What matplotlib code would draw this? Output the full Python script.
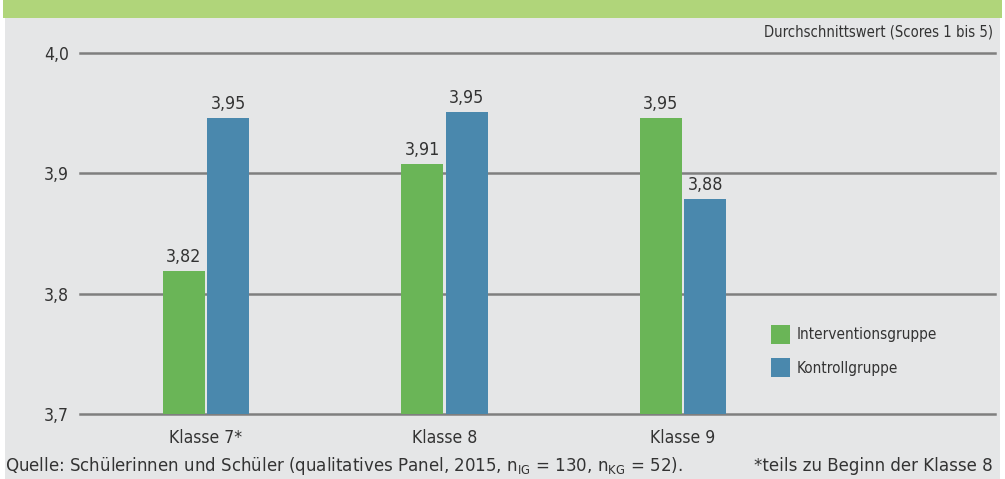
import matplotlib
matplotlib.use("Agg")
import matplotlib.pyplot as plt
from matplotlib.patches import Rectangle
import numpy as np

plt.rcParams['font.family'] = ['DejaVu Sans']
plt.rcParams['font.stretch'] = 'condensed'

categories = ["Klasse 7*", "Klasse 8", "Klasse 9"]
series_names = ["Interventionsgruppe", "Kontrollgruppe"]
interv = [3.819, 3.908, 3.946]
kontroll = [3.946, 3.951, 3.879]
yticks = [3.7, 3.8, 3.9, 4.0]
ytick_labels = ["3,7", "3,8", "3,9", "4,0"]

GREEN = "#6ab557"
BLUE = "#4a88ad"
BANNER = "#b0d57a"
PANEL = "#e5e6e7"
TXT = "#333333"
GRID = "#7f7f7f"

W, H = 1005, 479
fig = plt.figure(figsize=(W/100, H/100), dpi=100)
fig.patch.set_facecolor("white")

fig.add_artist(Rectangle((5/W, 0), (1000-5)/W, 1 - 18/H, transform=fig.transFigure,
                         facecolor=PANEL, edgecolor="none", zorder=0))
fig.add_artist(Rectangle((3/W, 1 - 18/H), (1002-3)/W, 18/H, transform=fig.transFigure,
                         facecolor=BANNER, edgecolor="none", zorder=0))

ax = fig.add_axes([80/W, 1 - 414/H, (995-80)/W, (414-53)/H])
ax.set_facecolor("none")
x = np.arange(len(categories))
bw = 0.176
off = 0.094
b1 = ax.bar(x - off, interv, bw, color=GREEN, zorder=3, label=series_names[0])
b2 = ax.bar(x + off, kontroll, bw, color=BLUE, zorder=3, label=series_names[1])

for bars, vals in ((b1, interv), (b2, kontroll)):
    for r, v in zip(bars, vals):
        ax.text(r.get_x() + r.get_width()/2, v + 0.004, f"{v:.2f}".replace(".", ","),
                ha="center", va="bottom", fontsize=12.8, color=TXT, zorder=4)

ax.set_ylim(3.7, 4.0)
ax.set_xlim(-0.528, 3.308)
ax.set_yticks(yticks)
ax.set_yticklabels(ytick_labels)
for yv in yticks:
    ax.axhline(yv, color=GRID, lw=1.8, zorder=2, clip_on=False)
ax.set_xticks(x)
ax.set_xticklabels(categories)
ax.tick_params(axis="both", length=0, labelsize=12.6, colors=TXT)
ax.tick_params(axis="y", pad=8)
ax.tick_params(axis="x", pad=11)
for s in ax.spines.values():
    s.set_visible(False)

leg = ax.legend(handles=[b1, b2], loc="upper left",
                bbox_to_anchor=(766/W, 1 - 320/H), bbox_transform=fig.transFigure,
                frameon=False, fontsize=11, handlelength=1.3, handleheight=1.55,
                handletextpad=0.4, labelspacing=0.95, labelcolor=TXT,
                borderpad=0.3, borderaxespad=0)

fig.text(993/W, 1 - 32/H, "Durchschnittswert (Scores 1 bis 5)", ha="right", va="center",
         fontsize=10.6, color=TXT)
fig.text(5/W, 1 - 466/H,
         "Quelle: Schülerinnen und Schüler (qualitatives Panel, 2015, n$_{\\mathregular{IG}}$ = 130, n$_{\\mathregular{KG}}$ = 52).",
         ha="left", va="center", fontsize=13.3, color=TXT)
fig.text(993/W, 1 - 466/H, "*teils zu Beginn der Klasse 8", ha="right", va="center",
         fontsize=13.3, color=TXT)

fig.savefig("out.png", dpi=100, facecolor=fig.get_facecolor())
